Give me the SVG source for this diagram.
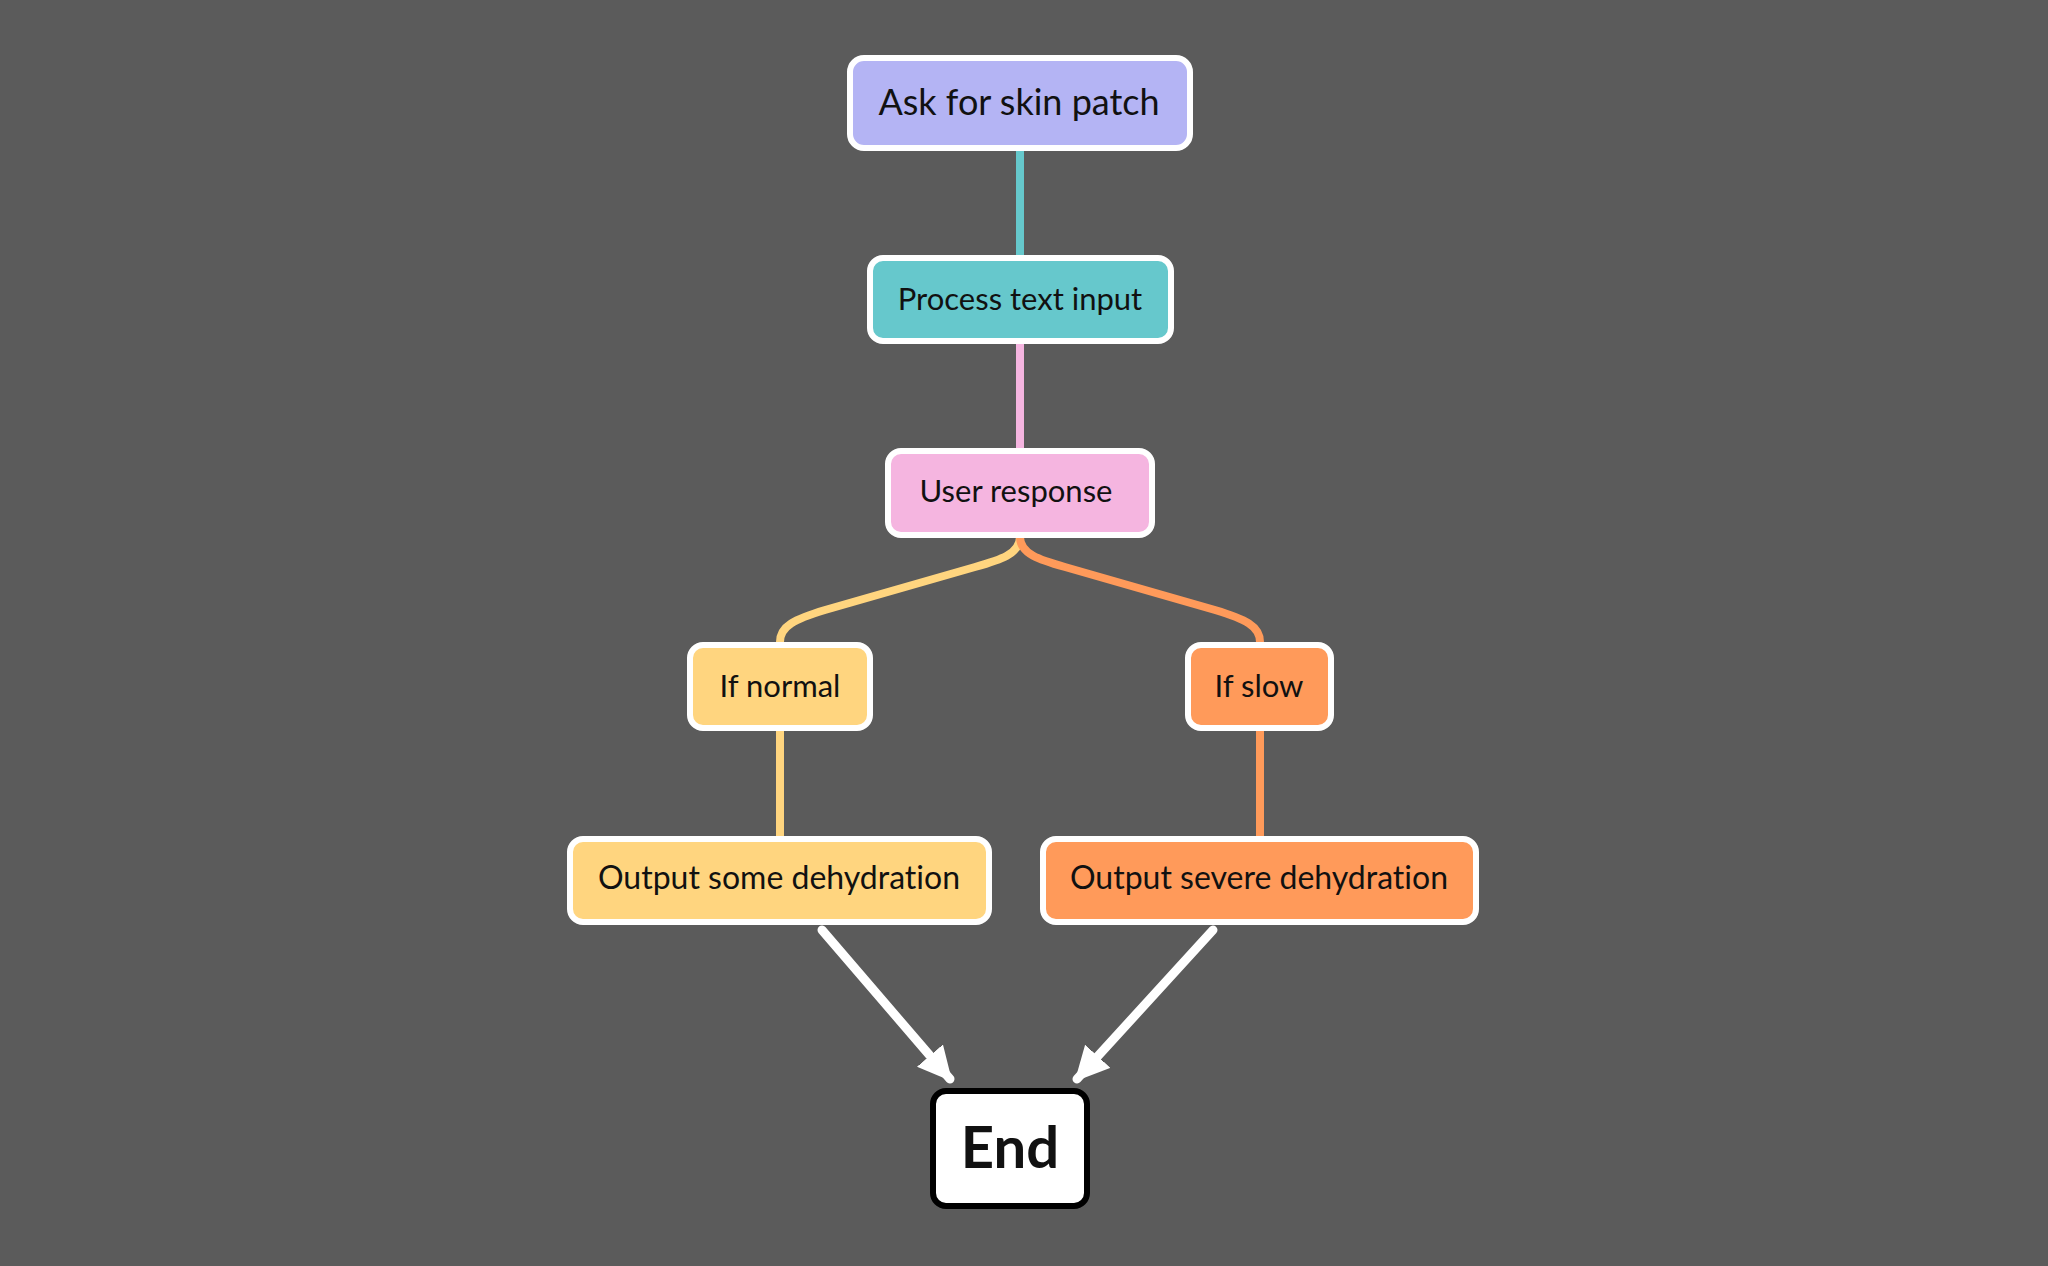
<svg xmlns="http://www.w3.org/2000/svg" width="2048" height="1266" viewBox="0 0 2048 1266">
<defs>
<style>
.node rect{stroke:#ffffff;stroke-width:6}
.lbl{font-family:Lato,"Noto Sans","DejaVu Sans",sans-serif;fill:#111111;text-anchor:middle;font-variant-ligatures:none;font-feature-settings:"liga" 0,"dlig" 0}
.conn{fill:none;stroke-width:8;stroke-linecap:round}
.arrow{fill:none;stroke:#ffffff;stroke-width:9;stroke-linecap:round}
</style>
<marker id="ah" viewBox="0 0 10 10" refX="9" refY="5" markerWidth="3.8" markerHeight="3.8" markerUnits="strokeWidth" orient="auto">
<path d="M0,0 L10,5 L0,10 Z" fill="#ffffff"/>
</marker>
</defs>
<rect x="0" y="0" width="2048" height="1266" fill="#5b5b5b"/>
<g id="connectors">
<line class="conn" x1="1020" y1="150" x2="1020" y2="256" stroke="#66c8cc"/>
<line class="conn" x1="1020" y1="343" x2="1020" y2="449" stroke="#f5b5e0"/>
<path class="conn" stroke="#ffd57f" d="M1020,537 C1020,554 1000,560 975,567 L825,610 C795,619 780,626 780,642"/>
<path class="conn" stroke="#ff9a5a" d="M1020,537 C1020,554 1040,560 1065,567 L1215,610 C1245,619 1260,626 1260,642"/>
<line class="conn" x1="780" y1="729" x2="780" y2="837" stroke="#ffd57f"/>
<line class="conn" x1="1260" y1="729" x2="1260" y2="837" stroke="#ff9a5a"/>
<line class="arrow" x1="822" y1="930" x2="950" y2="1079" marker-end="url(#ah)"/>
<line class="arrow" x1="1213" y1="930" x2="1077" y2="1079" marker-end="url(#ah)"/>
</g>
<g id="n1" class="node">
<rect x="850" y="58" width="340" height="90" rx="14" fill="#b4b4f4"/>
<text class="lbl" x="1019" y="115" font-size="36">Ask for skin patch</text>
</g>
<g id="n2" class="node">
<rect x="870" y="258" width="301" height="83" rx="13" fill="#66c8cc"/>
<text class="lbl" x="1020" y="310" font-size="31">Process text input</text>
</g>
<g id="n3" class="node">
<rect x="888" y="451" width="264" height="84" rx="13" fill="#f5b5e0"/>
<text class="lbl" x="1016" y="502" font-size="31">User response</text>
</g>
<g id="n4" class="node">
<rect x="690" y="645" width="180" height="83" rx="13" fill="#ffd57f"/>
<text class="lbl" x="780" y="697" font-size="31">If normal</text>
</g>
<g id="n5" class="node">
<rect x="1188" y="645" width="143" height="83" rx="13" fill="#ff9a5a"/>
<text class="lbl" x="1259" y="697" font-size="31">If slow</text>
</g>
<g id="n6" class="node">
<rect x="570" y="839" width="419" height="83" rx="13" fill="#ffd57f"/>
<text class="lbl" x="779" y="889" font-size="32">Output some dehydration</text>
</g>
<g id="n7" class="node">
<rect x="1043" y="839" width="433" height="83" rx="13" fill="#ff9a5a"/>
<text class="lbl" x="1259" y="889" font-size="32">Output severe dehydration</text>
</g>
<g id="n8">
<rect x="933" y="1091" width="154" height="115" rx="13" fill="#ffffff" stroke="#000000" stroke-width="6"/>
<text class="lbl" x="1010" y="1168" font-size="58" font-weight="bold" fill="#000000">End</text>
</g>
</svg>
